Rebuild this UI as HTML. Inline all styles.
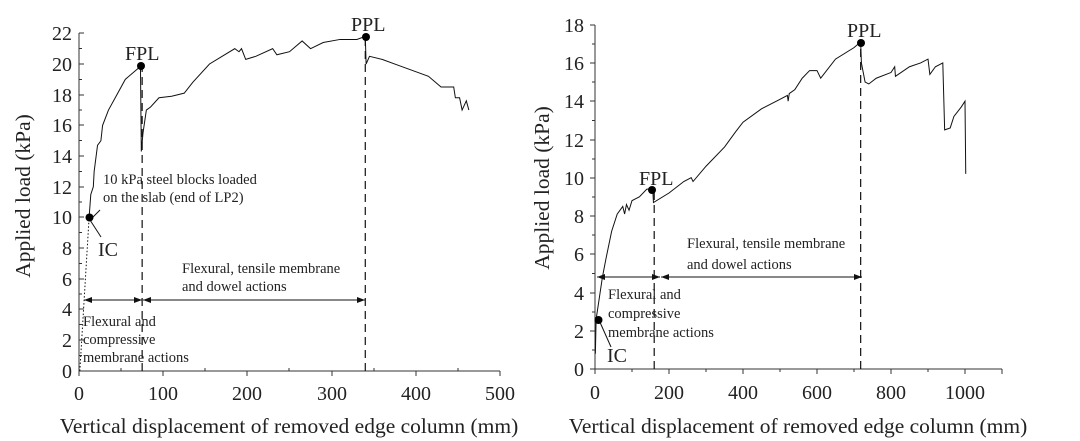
<!DOCTYPE html>
<html><head><meta charset="utf-8"><style>
html,body{margin:0;padding:0;background:#fff}
svg{display:block;font-family:"Liberation Serif",serif;fill:#222}
</style></head><body>
<svg width="1080" height="441" viewBox="0 0 1080 441" xmlns="http://www.w3.org/2000/svg">
<defs>
<marker id="ar" markerWidth="8" markerHeight="6" refX="8" refY="3" orient="auto-start-reverse" markerUnits="userSpaceOnUse"><path d="M0,0L8,3L0,6z" fill="#111"/></marker>
</defs>
<!-- LEFT CHART -->
<g stroke="#333" stroke-width="1" fill="none">
<path d="M79,33V371H500"/>
<path d="M79,371h5M79,340h5M79,309h5M79,279h5M79,248h5M79,217h5M79,187h5M79,156h5M79,125h5M79,95h5M79,64h5M79,33h5"/>
<path d="M79,355.5h3M79,324.5h3M79,294h3M79,263.5h3M79,232.5h3M79,202h3M79,171.5h3M79,140.5h3M79,110h3M79,79.5h3M79,48.5h3"/>
<path d="M79,371v5M163,371v5M247,371v5M332,371v5M416,371v5M500,371v5"/>
<path d="M121,371v-3M205,371v-3M289,371v-3M374,371v-3M458,371v-3"/>
</g>
<g transform="translate(79,371) scale(0.842,-15.35)" fill="none" stroke="#111">
<path vector-effect="non-scaling-stroke" stroke-width="1" d="M12,10L14,11.5L17,12L18,13L22,14.7L26,15L28,16L35,17L45,18L55,19L72,19.8L73,19.8L74,14.3L76,15.5L80,17L85,17.2L95,17.8L110,17.9L125,18.1L135,18.8L155,20L170,20.5L185,21L190,20.8L193,21L198,20.3L210,20.5L230,21L235,20.6L250,20.8L265,21.5L275,21L290,21.4L310,21.6L330,21.6L340,21.8L341,20L345,20.5L360,20.3L380,19.9L400,19.5L415,19.2L430,18.5L445,18.5L447,17.8L452,17.8L455,17L460,17.6L463,17"/>
<path vector-effect="non-scaling-stroke" stroke-width="1" stroke-dasharray="1.5,2" d="M1,0L12,10"/>
<path vector-effect="non-scaling-stroke" stroke-width="1.2" stroke-dasharray="8,5" d="M75,0V19.8M340,0V21.8"/>
</g>
<g stroke="#111" stroke-width="1">
<line x1="84" y1="300" x2="142" y2="300" marker-start="url(#ar)" marker-end="url(#ar)"/>
<line x1="143" y1="300" x2="365" y2="300" marker-start="url(#ar)" marker-end="url(#ar)"/>
<line x1="90" y1="220" x2="100" y2="210"/>
<line x1="90" y1="220" x2="101" y2="237"/>
</g>
<g fill="#000"><circle cx="89.5" cy="217.5" r="4"/><circle cx="141" cy="66" r="4"/><circle cx="366" cy="37" r="4"/></g>
<g font-size="20" text-anchor="end">
<text x="72" y="378">0</text><text x="72" y="347">2</text><text x="72" y="316">4</text><text x="72" y="286">6</text><text x="72" y="255">8</text><text x="72" y="224">10</text><text x="72" y="194">12</text><text x="72" y="163">14</text><text x="72" y="132">16</text><text x="72" y="102">18</text><text x="72" y="71">20</text><text x="72" y="40">22</text>
</g>
<g font-size="20" text-anchor="middle">
<text x="79" y="400">0</text><text x="163" y="400">100</text><text x="247" y="400">200</text><text x="332" y="400">300</text><text x="416" y="400">400</text><text x="500" y="400">500</text>
</g>
<text x="289" y="433" font-size="21.5" text-anchor="middle">Vertical displacement of removed edge column (mm)</text>
<text transform="translate(30,196) rotate(-90)" font-size="21.5" text-anchor="middle">Applied load (kPa)</text>
<text x="125" y="60" font-size="20">FPL</text>
<text x="351" y="31" font-size="20">PPL</text>
<text x="98" y="256" font-size="20">IC</text>
<g font-size="14.5"><text x="103" y="184">10 kPa steel blocks loaded</text><text x="103" y="202">on the slab (end of LP2)</text>
<text x="182" y="273">Flexural, tensile membrane</text><text x="182" y="291">and dowel actions</text>
<text x="83" y="326">Flexural and</text><text x="83" y="344">compressive</text><text x="83" y="362">membrane actions</text></g>

<!-- RIGHT CHART -->
<g stroke="#333" stroke-width="1" fill="none">
<path d="M595,25V369H1002"/>
<path d="M595,369h-5M595,331h-5M595,293h-5M595,254h-5M595,216h-5M595,178h-5M595,140h-5M595,101h-5M595,63h-5M595,25h-5"/>
<path d="M595,350h-3M595,312h-3M595,273.5h-3M595,235h-3M595,197h-3M595,159h-3M595,120.5h-3M595,82h-3M595,44h-3"/>
<path d="M595,369v5M669,369v5M743,369v5M817,369v5M891,369v5M965,369v5M1002,369v5"/>
<path d="M632,369v3M706,369v3M780,369v3M854,369v3M928,369v3"/>
</g>
<g transform="translate(595,369) scale(0.37,-19.13)" fill="none" stroke="#111">
<path vector-effect="non-scaling-stroke" stroke-width="1" d="M1,0.8L3,2.6L10,3.5L20,4.8L30,5.8L45,7.2L60,8.1L75,8.5L80,8.1L85,8.6L92,8.3L100,8.8L120,9L140,9.4L156,9.4L158,8.7L200,9.2L240,9.8L260,10L265,9.8L300,10.6L350,11.6L380,12.4L400,12.9L450,13.6L500,14.1L520,14.3L522,14L525,14.4L540,14.6L560,15.2L580,15.6L600,15.6L610,15.2L650,16.2L700,16.8L718,17.1L720,16L725,15.5L730,15L740,14.9L760,15.2L800,15.5L810,15.8L812,15.3L850,15.8L880,16L900,16.2L905,15.4L920,15.8L940,16L945,12.5L960,12.6L970,13.2L990,13.7L1000,14L1002,10.2"/>
<path vector-effect="non-scaling-stroke" stroke-width="1.2" stroke-dasharray="8,5" d="M160,0V9.4M718,0V17.1"/>
</g>
<g stroke="#111" stroke-width="1">
<line x1="597" y1="277" x2="660" y2="277" marker-start="url(#ar)" marker-end="url(#ar)"/>
<line x1="661" y1="277" x2="862" y2="277" marker-start="url(#ar)" marker-end="url(#ar)"/>
<line x1="599" y1="320" x2="611" y2="347"/>
</g>
<g fill="#000"><circle cx="598.5" cy="320" r="4"/><circle cx="652" cy="190" r="4"/><circle cx="861" cy="43" r="4"/></g>
<g font-size="20" text-anchor="end">
<text x="584" y="376">0</text><text x="584" y="338">2</text><text x="584" y="300">4</text><text x="584" y="261">6</text><text x="584" y="223">8</text><text x="584" y="185">10</text><text x="584" y="147">12</text><text x="584" y="108">14</text><text x="584" y="70">16</text><text x="584" y="32">18</text>
</g>
<g font-size="20" text-anchor="middle">
<text x="595" y="399">0</text><text x="669" y="399">200</text><text x="743" y="399">400</text><text x="817" y="399">600</text><text x="891" y="399">800</text><text x="965" y="399">1000</text>
</g>
<text x="798" y="433" font-size="21.5" text-anchor="middle">Vertical displacement of removed edge column (mm)</text>
<text transform="translate(549,188) rotate(-90)" font-size="21.5" text-anchor="middle">Applied load (kPa)</text>
<text x="639" y="185" font-size="20">FPL</text>
<text x="847" y="37" font-size="20">PPL</text>
<text x="607" y="362" font-size="20">IC</text>
<g font-size="14.5"><text x="687" y="248">Flexural, tensile membrane</text><text x="687" y="269">and dowel actions</text>
<text x="608" y="299">Flexural and</text><text x="608" y="318">compressive</text><text x="608" y="337">membrane actions</text></g>
</svg>
</body></html>
